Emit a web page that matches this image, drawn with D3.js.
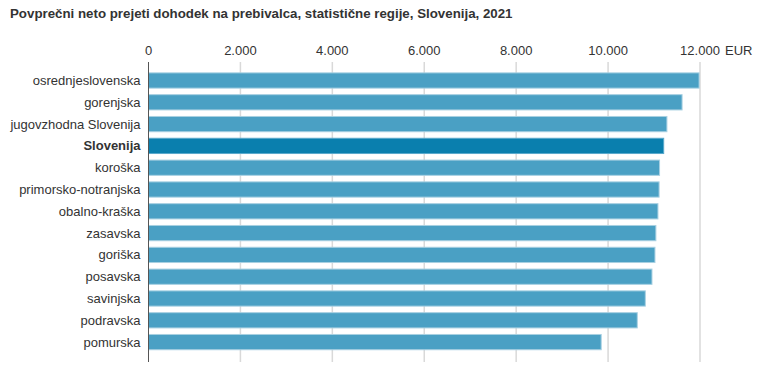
<!DOCTYPE html>
<html>
<head>
<meta charset="utf-8">
<script src="https://cdn.jsdelivr.net/npm/d3@7"></script>
<style>
  body { margin: 0; background: #fff; }
  svg { font-family: "Liberation Sans", Arial, sans-serif; }
</style>
</head>
<body>
<div id="chart"></div>
<script>
// data
const regions = ["osrednjeslovenska", "gorenjska", "jugovzhodna Slovenija", "Slovenija", "koroška",
  "primorsko-notranjska", "obalno-kraška", "zasavska", "goriška", "posavska", "savinjska", "podravska", "pomurska"];
const income = [11980, 11610, 11280, 11210, 11120, 11110, 11085, 11040, 11020, 10955, 10810, 10635, 9850];
const ticks = [0, 2000, 4000, 6000, 8000, 10000, 12000];
const highlight = "Slovenija";

const width = 772, height = 385;
const margin = { top: 69.6, right: 72, bottom: 32, left: 148.5 };
const gridTop = 62, gridBottom = 362;

const svg = d3.select("#chart").append("svg")
  .attr("width", width)
  .attr("height", height);

svg.append("text")
  .attr("x", 10).attr("y", 18)
  .style("font-size", "13.3px")
  .style("font-weight", "bold")
  .style("fill", "#333")
  .text("Povprečni neto prejeti dohodek na prebivalca, statistične regije, Slovenija, 2021");

const x = d3.scaleLinear().domain([0, 12000]).range([margin.left, 700]);
const y = d3.scaleBand().domain(regions).range([margin.top, height - margin.bottom]).paddingInner(0.3).paddingOuter(0.15);

const fmt = d => d3.format(",")(d).replace(/,/g, ".");

// gridlines
svg.append("g").selectAll("line")
  .data(ticks.slice(1))
  .join("line")
  .attr("x1", d => x(d)).attr("x2", d => x(d))
  .attr("y1", gridTop).attr("y2", gridBottom)
  .attr("stroke", "#d9d9d9")
  .attr("stroke-width", 1.5);

// tick labels
svg.append("g").selectAll("text")
  .data(ticks)
  .join("text")
  .attr("x", d => x(d))
  .attr("y", 55)
  .attr("text-anchor", "middle")
  .style("font-size", "13px")
  .style("fill", "#333")
  .text(d => fmt(d));

svg.append("text")
  .attr("x", x(12000) + 25).attr("y", 55)
  .style("font-size", "13px")
  .style("fill", "#333")
  .text("EUR");

// bars
svg.append("g").selectAll("rect")
  .data(regions)
  .join("rect")
  .attr("x", x(0))
  .attr("y", d => y(d))
  .attr("width", (d, i) => x(income[i]) - x(0))
  .attr("height", y.bandwidth())
  .attr("fill", d => d === highlight ? "#0a7fae" : "#4aa0c4")
  .attr("stroke", d => d === highlight ? "#5aa9cc" : "#a8d0e2")
  .attr("stroke-width", 1);

// category labels
svg.append("g").selectAll("text")
  .data(regions)
  .join("text")
  .attr("x", margin.left - 8)
  .attr("y", d => y(d) + y.bandwidth() / 2)
  .attr("dy", "0.35em")
  .attr("text-anchor", "end")
  .style("font-size", "13px")
  .style("font-weight", d => d === highlight ? "bold" : "normal")
  .style("fill", "#333")
  .text(d => d);

// axis line
svg.append("line")
  .attr("x1", x(0)).attr("x2", x(0))
  .attr("y1", gridTop).attr("y2", gridBottom)
  .attr("stroke", "#555")
  .attr("stroke-width", 1);
</script>
</body>
</html>
